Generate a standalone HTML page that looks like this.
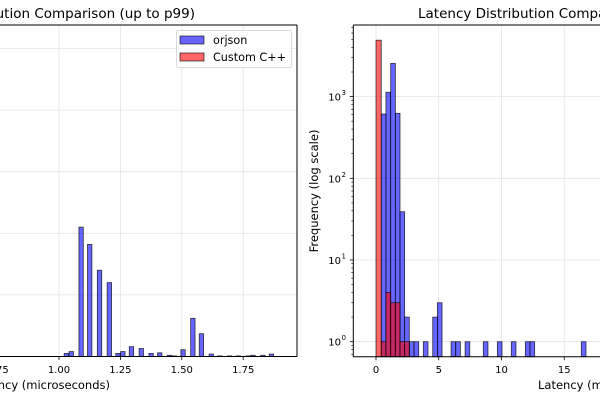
<!DOCTYPE html>
<html><head><meta charset="utf-8"><style>
html,body{margin:0;padding:0;background:#fff;}
svg{display:block;font-family:"DejaVu Sans","Liberation Sans",sans-serif;}
</style></head><body>
<svg id="c" width="600" height="400" viewBox="0 0 600 400" xmlns="http://www.w3.org/2000/svg">
<g id="left"></g>
<g id="right"></g>
</svg>
<script>
// Left panel data (linear histogram, up to p99)
const leftBins = [1.03,1.05,1.09,1.125,1.165,1.205,1.24,1.26,1.295,1.335,1.375,1.41,1.45,1.47,1.505,1.545,1.58,1.62,1.655,1.695,1.73,1.77,1.79,1.83,1.865];
const leftCounts = [5,8,210,182,140,120,5,8,16,13,5,6,2,1,11,62,37,4,1,1,1,1,2,2,4];
const leftXTicks = [0.75,1.00,1.25,1.50,1.75];
const leftYTicks = [0,100,200,300,400,500];
// Right panel data (log histogram)
const blueStarts = [0.42,0.79,1.17,1.54,1.91,2.28,2.66,3.03,3.77,4.52,4.89,5.98,6.35,7.10,8.55,9.67,10.78,11.90,12.27,16.36];
const blueCounts = [612,1130,2550,625,39,2,1,1,1,2,3,1,1,1,1,1,1,1,1,1];
const redStarts = [0.0,0.42,0.79,1.17,1.54,1.91,2.28];
const redCounts = [4900,1,4,3,3,1,1];
const rightXTicks = [0,5,10,15];
const rightYExp = [0,1,2,3];

const NS="http://www.w3.org/2000/svg";
function mk(parent,tag,attrs,text){const e=document.createElementNS(NS,tag);for(const k in attrs)e.setAttribute(k,attrs[k]);if(text!==undefined)e.textContent=text;parent.appendChild(e);return e;}

// ---------- LEFT ----------
const L=document.getElementById('left');
const lx=v=>59+(v-1.0)*245.6;
const ly=c=>356.5-c*0.616;
const lTop=25,lBot=356.5,lRight=297;
for(const t of leftXTicks){
  const g=mk(L,'line',{x1:lx(t),x2:lx(t),y1:lTop,y2:lBot,stroke:'#e3e3e3','stroke-width':0.8});
  
  
}
for(const t of leftYTicks){
  const g=mk(L,'line',{x1:0,x2:lRight,y1:ly(t),y2:ly(t),stroke:'#e3e3e3','stroke-width':0.8});
  
  
}
const bw=4.4;
leftBins.forEach((b,i)=>{
  const r=mk(L,'rect',{x:lx(b)-bw/2,y:ly(leftCounts[i]),width:bw,height:lBot-ly(leftCounts[i]),fill:'rgba(0,0,255,0.6)',stroke:'rgba(0,0,0,0.75)','stroke-width':0.8});
  
  
});
mk(L,'line',{x1:0,x2:lRight,y1:lBot,y2:lBot,stroke:'#000','stroke-width':1});
mk(L,'line',{x1:lRight,x2:lRight,y1:lTop,y2:lBot,stroke:'#000','stroke-width':1});
mk(L,'line',{x1:0,x2:lRight,y1:lTop,y2:lTop,stroke:'#000','stroke-width':1});
for(const t of leftXTicks){
  mk(L,'line',{x1:lx(t),x2:lx(t),y1:lBot,y2:lBot+3.5,stroke:'#000','stroke-width':0.8});
  const tl=mk(L,'text',{x:lx(t),y:373,'font-size':10,'text-anchor':'middle',fill:'#000'},t.toFixed(2));
  
  
}
let e=mk(L,'text',{x:110,y:389,'font-size':11.5,'text-anchor':'end'},'Latency (microseconds)');

e=mk(L,'text',{x:195,y:18,'font-size':13.5,'text-anchor':'end'},'Latency Distribution Comparison (up to p99)');

// legend
const lg=mk(L,'g',{});

mk(lg,'rect',{x:176.5,y:30.5,width:115,height:37,rx:2,fill:'rgba(255,255,255,0.85)',stroke:'#d0d0d0','stroke-width':0.8});
mk(lg,'rect',{x:180,y:36,width:24,height:8,fill:'rgba(0,0,255,0.6)',stroke:'rgba(0,0,0,0.75)','stroke-width':0.8});
mk(lg,'rect',{x:180,y:53,width:24,height:8,fill:'rgba(255,0,0,0.6)',stroke:'rgba(0,0,0,0.75)','stroke-width':0.8});
e=mk(lg,'text',{x:213,y:44,'font-size':11.2},'orjson');
e=mk(lg,'text',{x:213,y:61,'font-size':11.2},'Custom C++');

// ---------- RIGHT ----------
const R=document.getElementById('right');
const rx=v=>376+v*12.55;
const ry=c=>341.7-Math.log10(c)*81.7;
const rTop=25,rBot=356.7,rLeft=353.3;
for(const t of rightXTicks){
  const g=mk(R,'line',{x1:rx(t),x2:rx(t),y1:rTop,y2:rBot,stroke:'#e3e3e3','stroke-width':0.8});
  
}
for(const p of rightYExp){
  const g=mk(R,'line',{x1:rLeft,x2:600,y1:ry(Math.pow(10,p)),y2:ry(Math.pow(10,p)),stroke:'#e3e3e3','stroke-width':0.8});
  
}
const rbw=0.373;
blueStarts.forEach((s,i)=>{
  const r=mk(R,'rect',{x:rx(s),y:ry(blueCounts[i]),width:rbw*12.55,height:rBot-ry(blueCounts[i]),fill:'rgba(0,0,255,0.6)',stroke:'rgba(0,0,0,0.75)','stroke-width':0.8});
  
});
redStarts.forEach((s,i)=>{
  const w=(i<redStarts.length-1?redStarts[i+1]-s:rbw);
  const r=mk(R,'rect',{x:rx(s),y:ry(redCounts[i]),width:w*12.55,height:rBot-ry(redCounts[i]),fill:'rgba(255,0,0,0.6)',stroke:'rgba(0,0,0,0.75)','stroke-width':0.8});
  
});
mk(R,'line',{x1:rLeft,x2:600,y1:rBot,y2:rBot,stroke:'#000','stroke-width':1});
mk(R,'line',{x1:rLeft,x2:600,y1:rTop,y2:rTop,stroke:'#000','stroke-width':1});
mk(R,'line',{x1:rLeft,x2:rLeft,y1:rTop,y2:rBot,stroke:'#000','stroke-width':1});
for(const t of rightXTicks){
  mk(R,'line',{x1:rx(t),x2:rx(t),y1:rBot,y2:rBot+3.5,stroke:'#000','stroke-width':0.8});
  const tl=mk(R,'text',{x:rx(t),y:373,'font-size':10,'text-anchor':'middle'},String(t));
  
}
for(let p=-1;p<=3;p++){
  for(let m=2;m<=9;m++){
    const y=ry(m*Math.pow(10,p));
    if(y>rTop&&y<rBot) mk(R,'line',{x1:rLeft-2,x2:rLeft,y1:y,y2:y,stroke:'#000','stroke-width':0.6});
  }
}
for(const p of rightYExp){
  const y=ry(Math.pow(10,p));
  mk(R,'line',{x1:rLeft-3.5,x2:rLeft,y1:y,y2:y,stroke:'#000','stroke-width':0.8});
  const tl=mk(R,'text',{x:341,y:y+4,'font-size':10,'text-anchor':'end'},'10');
  
  mk(R,'text',{x:341.5,y:y-1.5,'font-size':7},String(p));
}
e=mk(R,'text',{x:0,y:0,'font-size':11.5,'text-anchor':'middle',transform:'translate(318,191) rotate(-90)'},'Frequency (log scale)');

e=mk(R,'text',{x:538,y:389,'font-size':11.5},'Latency (microseconds)');

e=mk(R,'text',{x:418,y:18,'font-size':13.5},'Latency Distribution Comparison');

</script>
</body></html>
